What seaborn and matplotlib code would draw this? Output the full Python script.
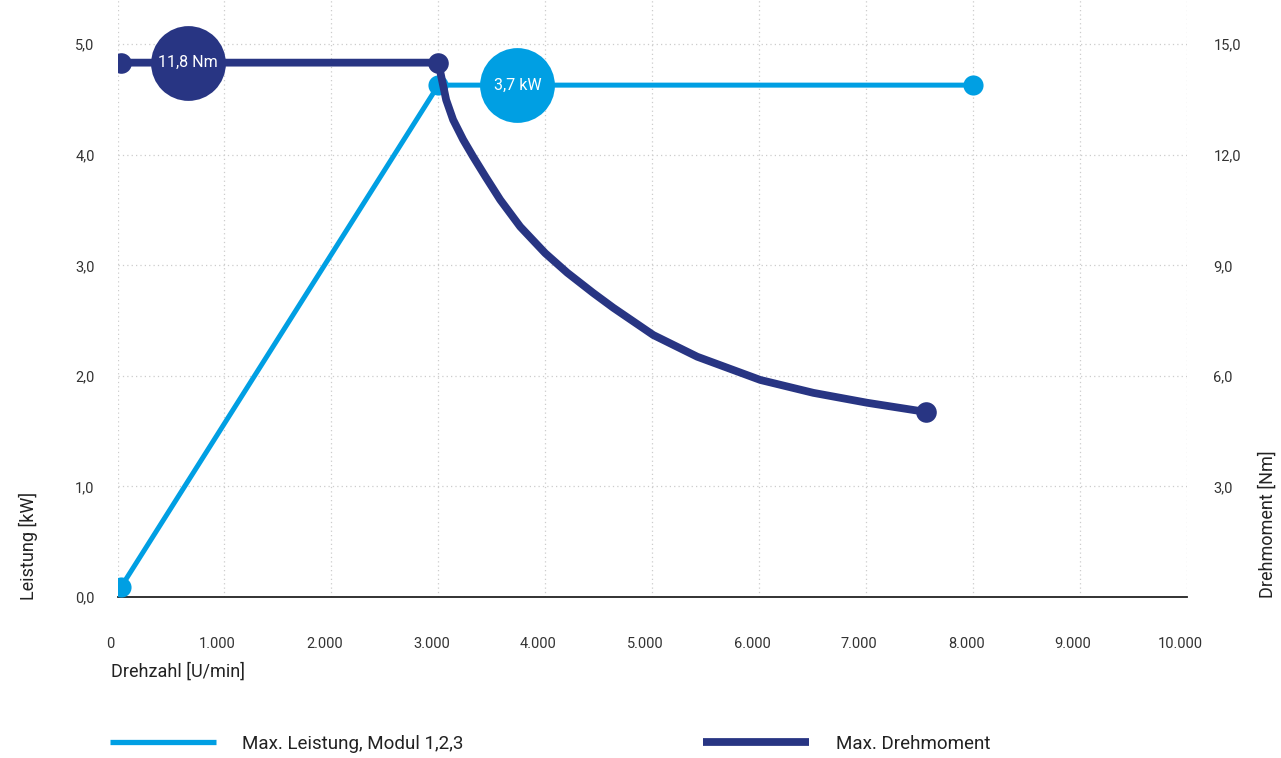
import numpy as np
import pandas as pd
import matplotlib.pyplot as plt
import matplotlib.transforms as mtransforms
from matplotlib.ticker import FuncFormatter, FixedLocator
from matplotlib.lines import Line2D
import seaborn as sns

# data
power_rpm = [33, 3000, 8000]
power_kw = [0.09, 4.63, 4.63]

torque_rpm = [33, 3000, 3073, 3138, 3232, 3325, 3442, 3578, 3765, 3999, 4205,
              4448, 4635, 5009, 5421, 6010, 6506, 7011, 7563]
torque_nm = [14.5, 14.5, 13.49, 12.95, 12.41, 11.95, 11.40, 10.78, 10.05, 9.33, 8.80,
             8.25, 7.85, 7.11, 6.52, 5.89, 5.54, 5.27, 5.02]

# bubble labels
power_bubble_rpm = [3740]
power_bubble_kw = [4.63]
power_bubble_text = ["3,7 kW"]
torque_bubble_rpm = [660]
torque_bubble_nm = [14.5]
torque_bubble_text = ["11,8 Nm"]

light = "#009fe3"
dark = "#283583"
txt = "#333333"

sns.set_theme(style="white")
plt.rcParams['font.family'] = ['Roboto', 'DejaVu Sans']

fig = plt.figure(figsize=(12.81, 7.58), dpi=100)
ax = fig.add_axes([117.5 / 1281, 1 - 597 / 758, (1187 - 117.5) / 1281, 597 / 758])
ax2 = ax.twinx()

power = pd.DataFrame({"rpm": power_rpm, "kw": power_kw})
torque = pd.DataFrame({"rpm": torque_rpm, "nm": torque_nm})

sns.lineplot(data=power, x="rpm", y="kw", ax=ax, color=light, lw=3.6, sort=False)
sns.scatterplot(x=[power_rpm[0], power_rpm[1], power_rpm[-1]],
                y=[power_kw[0], power_kw[1], power_kw[-1]],
                ax=ax, color=light, s=210, linewidth=0, zorder=3)
sns.scatterplot(x=power_bubble_rpm, y=power_bubble_kw, ax=ax, color=light,
                s=2900, linewidth=0, zorder=4)
for x, y, t in zip(power_bubble_rpm, power_bubble_kw, power_bubble_text):
    ax.text(x, y, t, color="white", ha="center", va="center", fontsize=11.5, zorder=5)

sns.lineplot(data=torque, x="rpm", y="nm", ax=ax2, color=dark, lw=5.6, sort=False)
sns.scatterplot(x=[torque_rpm[0], torque_rpm[1], torque_rpm[-1]],
                y=[torque_nm[0], torque_nm[1], torque_nm[-1]],
                ax=ax2, color=dark, s=220, linewidth=0, zorder=3)
sns.scatterplot(x=torque_bubble_rpm, y=torque_bubble_nm, ax=ax2, color=dark,
                s=2900, linewidth=0, zorder=4)
for x, y, t in zip(torque_bubble_rpm, torque_bubble_nm, torque_bubble_text):
    ax2.text(x, y, t, color="white", ha="center", va="center", fontsize=11.5, zorder=5)

ax.set_xlim(0, 10000)
ax.set_ylim(0, 5.4)
ax2.set_ylim(0, 16.2)

ax.xaxis.set_major_locator(FixedLocator(np.arange(0, 10001, 1000)))
ax.yaxis.set_major_locator(FixedLocator(np.arange(0, 5.01, 1.0)))
ax2.yaxis.set_major_locator(FixedLocator([3, 6, 9, 12, 15]))

ax.xaxis.set_major_formatter(FuncFormatter(lambda v, p: f"{int(v):,}".replace(",", ".")))
ax.yaxis.set_major_formatter(FuncFormatter(lambda v, p: f"{v:.1f}".replace(".", ",")))
ax2.yaxis.set_major_formatter(FuncFormatter(lambda v, p: f"{v:.1f}".replace(".", ",")))

ax.grid(True, color="#cccccc", linestyle=(0, (1, 2.5)), linewidth=0.9)
ax.set_axisbelow(True)
for a in (ax, ax2):
    for s in ("top", "left", "right", "bottom"):
        a.spines[s].set_visible(False)
    a.set_xlabel("")
    a.set_ylabel("")
    a.patch.set_alpha(0)
ax.spines["bottom"].set_visible(True)
ax.spines["bottom"].set_color("#222222")
ax.spines["bottom"].set_linewidth(1.3)

ax.tick_params(axis="x", length=0, pad=29, labelsize=10.5, labelcolor=txt)
ax.tick_params(axis="y", length=0, pad=16.5, labelsize=10.5, labelcolor=txt)
ax2.tick_params(axis="y", length=0, pad=19, labelsize=10.5, labelcolor=txt)

shift = mtransforms.ScaledTranslation(-7 / 100, 0, fig.dpi_scale_trans)
for lab in ax.get_xticklabels():
    lab.set_transform(lab.get_transform() + shift)

fig.text(28 / 1281, 1 - 600 / 758, "Leistung [kW]", rotation=90, ha="center",
         va="bottom", fontsize=13, color="#222222")
fig.text(1268 / 1281, 1 - 598 / 758, "Drehmoment [Nm]", rotation=90, ha="center",
         va="bottom", fontsize=13, color="#222222")
fig.text(111 / 1281, 1 - 672 / 758, "Drehzahl [U/min]", ha="left", va="center",
         fontsize=13, color="#222222")

handles = [Line2D([], [], color=light, lw=3.8, solid_capstyle="butt"),
           Line2D([], [], color=dark, lw=5.6, solid_capstyle="butt")]
labels = ["Max. Leistung, Modul 1,2,3", "Max. Drehmoment"]
fig.legend(handles, labels, loc="center left", bbox_to_anchor=(93 / 1281, 1 - 744 / 758),
           ncol=2, frameon=False, handlelength=5.65, handletextpad=1.4,
           columnspacing=12.8, fontsize=13.5, labelcolor="#222222")

fig.savefig("out.png", dpi=100)
